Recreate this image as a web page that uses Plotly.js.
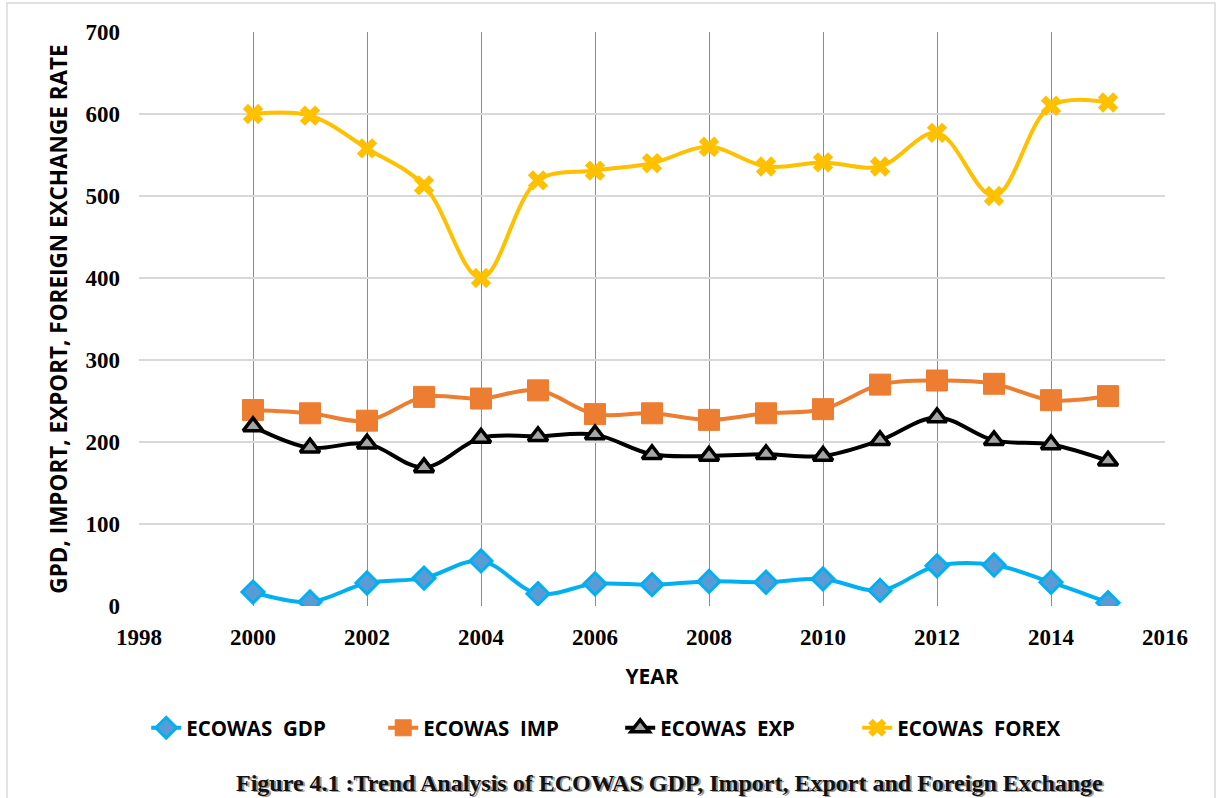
<!DOCTYPE html>
<html>
<head>
<meta charset="utf-8">
<script src="https://cdn.plot.ly/plotly-3.0.1.min.js"></script>
<style>
  html, body { margin: 0; padding: 0; background: #ffffff; }
  #chart { width: 1221px; height: 798px; }
</style>
</head>
<body>
<div id="chart"></div>
<script>
// ---- data ----
const years = [2000, 2001, 2002, 2003, 2004, 2005, 2006, 2007, 2008, 2009, 2010, 2011, 2012, 2013, 2014, 2015];
const gdp   = [17, 5, 28, 34, 55, 15, 27, 26, 30, 29, 33, 19, 49, 50, 29, 4];
const imp   = [239, 235, 226, 255, 253, 263, 234, 235, 227, 235, 240, 270, 275, 271, 251, 256];
const exp   = [219, 193, 198, 169, 205, 207, 209, 185, 183, 185, 183, 202, 230, 202, 197, 177];
const forex = [600, 598, 558, 513, 400, 519, 531, 540, 560, 536, 541, 536, 577, 500, 610, 614];

const seriesNames = ["ECOWAS  GDP", "ECOWAS  IMP", "ECOWAS  EXP", "ECOWAS  FOREX"];
const yTitle = "GPD, IMPORT, EXPORT, FOREIGN EXCHANGE RATE";
const xTitle = "YEAR";
const caption = "Figure 4.1 :Trend Analysis of ECOWAS GDP, Import, Export and Foreign Exchange";

const lineOpts = {shape: "spline", smoothing: 1, width: 4};

const traces = [
  {
    x: years, y: gdp, name: seriesNames[0], mode: "lines+markers", type: "scatter",
    line: Object.assign({}, lineOpts, {color: "#00B0F0"}),
    marker: {symbol: "diamond", size: 17, color: "#5B9BD5", line: {color: "#00B0F0", width: 3}}
  },
  {
    x: years, y: imp, name: seriesNames[1], mode: "lines+markers", type: "scatter",
    line: Object.assign({}, lineOpts, {color: "#ED7D31"}),
    marker: {symbol: "square", size: 21, color: "#ED7D31", line: {color: "#ED7D31", width: 1}}
  },
  {
    x: years, y: exp, name: seriesNames[2], mode: "lines+markers", type: "scatter",
    line: Object.assign({}, lineOpts, {color: "#000000"}),
    marker: {symbol: "triangle-up", size: 17, color: "#A5A5A5", line: {color: "#000000", width: 3.5}}
  },
  {
    x: years, y: forex, name: seriesNames[3], mode: "lines+markers", type: "scatter",
    line: Object.assign({}, lineOpts, {color: "#FFC000"}),
    marker: {symbol: "x", size: 18, color: "#FFC000", line: {color: "#FFC000", width: 0}}
  }
];

const tickFont = {family: "Liberation Serif, Times New Roman, serif", size: 23, color: "#000000", weight: "bold"};
const labelFont = {family: "Open Sans, Arial, sans-serif", size: 21, color: "#000000", weight: "bold"};

const layout = {
  width: 1221, height: 798,
  margin: {l: 139, r: 56, t: 32, b: 192},
  paper_bgcolor: "#ffffff", plot_bgcolor: "#ffffff",
  showlegend: true,
  hovermode: false,
  xaxis: {
    range: [1998, 2016], dtick: 2, tick0: 1998,
    showgrid: true, gridcolor: "#8C8C8C", gridwidth: 1,
    zeroline: false, showline: false, ticks: "",
    tickfont: tickFont, ticklabelstandoff: 15,
    title: {text: xTitle, font: labelFont, standoff: 20}
  },
  yaxis: {
    range: [0, 700], dtick: 100, tick0: 0,
    showgrid: true, gridcolor: "#D9D9D9", gridwidth: 1.5,
    zeroline: false, showline: false, ticks: "",
    tickfont: tickFont, ticklabelstandoff: 18,
    title: {text: yTitle, font: Object.assign({}, labelFont, {size: 22.5}), standoff: 11}
  },
  legend: {
    orientation: "h", x: 0.469, xanchor: "center", y: -0.2125, yanchor: "middle",
    font: {family: "Open Sans, Arial, sans-serif", size: 20.5, color: "#000000", weight: "bold"},
    itemwidth: 30, entrywidth: 192, traceorder: "normal", bgcolor: "rgba(0,0,0,0)"
  },
  annotations: [
    {
      xref: "paper", yref: "paper", x: 0.519, y: -0.3104, xanchor: "center", yanchor: "middle",
      text: caption, showarrow: false,
      font: {family: "Liberation Serif, Times New Roman, serif", size: 24, color: "#9a9a9a", weight: "bold"}
    },
    {
      xref: "paper", yref: "paper", x: 0.517, y: -0.3085, xanchor: "center", yanchor: "middle",
      text: caption, showarrow: false,
      font: {family: "Liberation Serif, Times New Roman, serif", size: 24, color: "#111111", weight: "bold"}
    }
  ],
  shapes: [
    {
      type: "rect", xref: "paper", yref: "paper",
      x0: -0.1287, x1: 1.0487, y0: -0.345, y1: 1.0505,
      line: {color: "#D9D9D9", width: 1.5}, fillcolor: "rgba(0,0,0,0)", layer: "below"
    }
  ]
};

Plotly.newPlot("chart", traces, layout, {displayModeBar: false, staticPlot: true});
</script>
</body>
</html>
